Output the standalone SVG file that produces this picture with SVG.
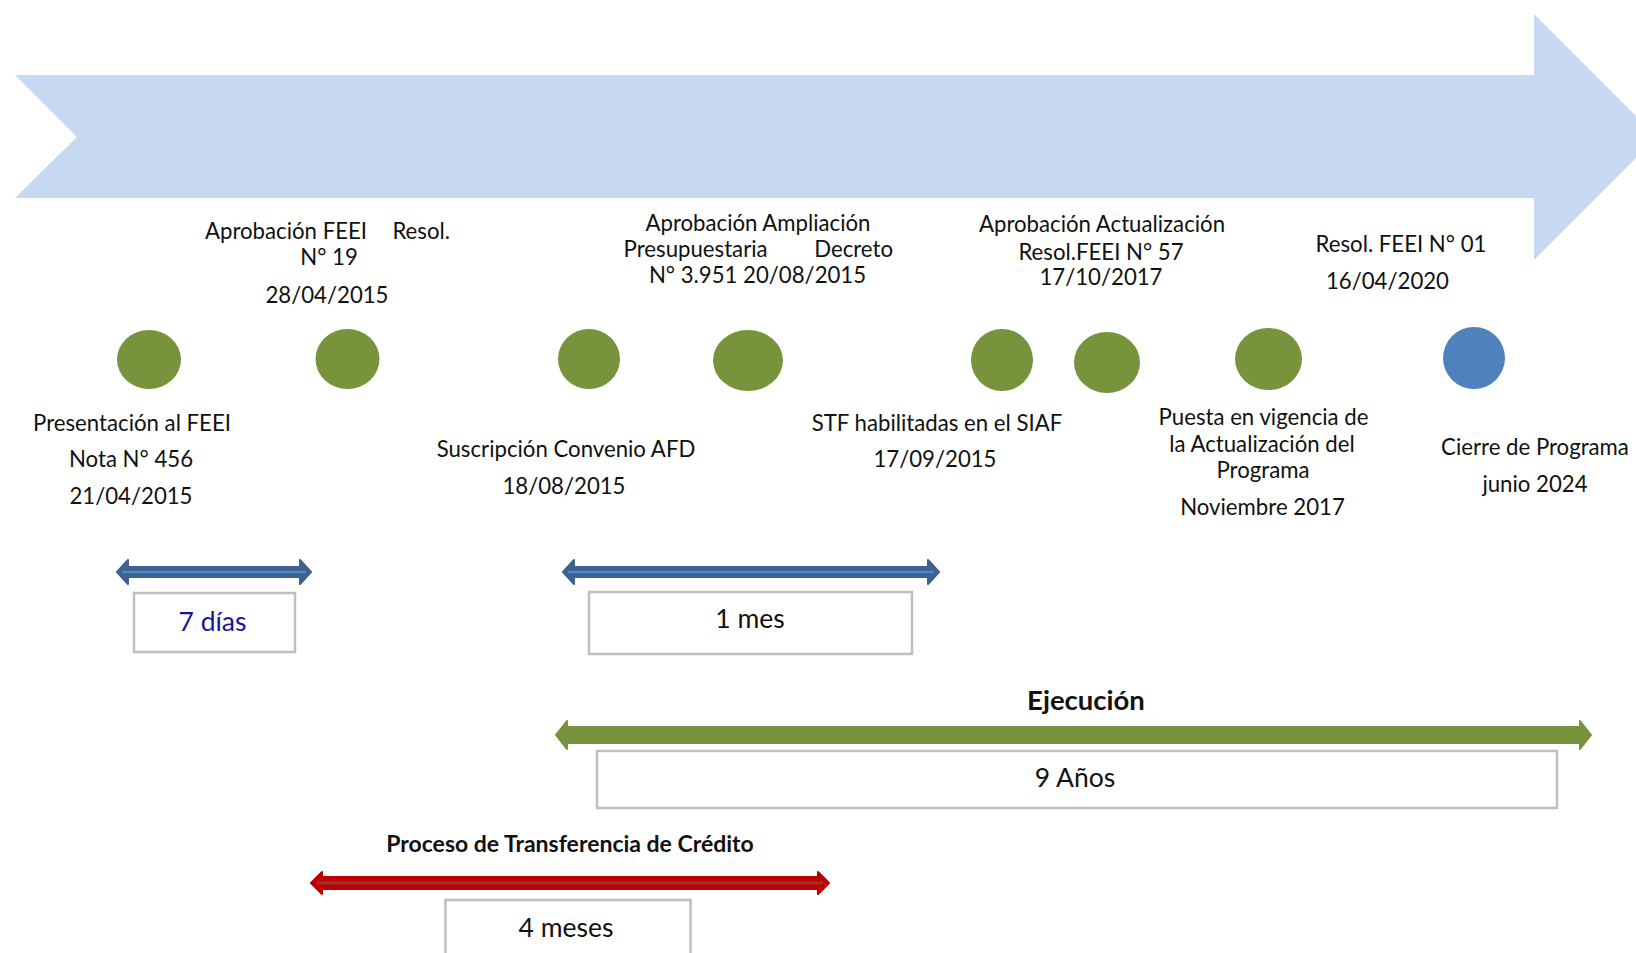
<svg xmlns="http://www.w3.org/2000/svg" width="1636" height="953" viewBox="0 0 1636 953">
<style>
.lbl{font-family:Lato,'Liberation Sans',sans-serif;font-size:22.2px;fill:#111;text-anchor:middle}
.big{font-family:Lato,'Liberation Sans',sans-serif;font-size:26.5px;fill:#111;text-anchor:middle}
.bold{font-family:Lato,'Liberation Sans',sans-serif;font-weight:bold;fill:#111;text-anchor:middle}
.g{fill:#77933C}
.b{fill:#4F81BD}
.box{fill:#fff;stroke:#BFBFBF;stroke-width:2.5}
</style>
<rect width="1636" height="953" fill="#fff"/>
<g id="timeline">
<polygon points="15,75 1534,75 1534,14 1657,137 1534,260 1534,198 15,198 77,137" fill="#C6D9F0"/>
</g>
<g id="m1"><ellipse class="g" cx="149" cy="359.5" rx="32" ry="29.5"/>
<text class="lbl" x="132" y="431">Presentación al FEEI</text>
<text class="lbl" x="131" y="467">Nota N° 456</text>
<text class="lbl" x="131" y="504">21/04/2015</text></g>
<g id="m2"><ellipse class="g" cx="347.5" cy="359" rx="32" ry="30"/>
<text class="lbl" y="239"><tspan x="205" text-anchor="start">Aprobación FEEI</tspan><tspan x="450" text-anchor="end">Resol.</tspan></text>
<text class="lbl" x="329" y="265">N° 19</text>
<text class="lbl" x="327" y="303">28/04/2015</text></g>
<g id="m3"><ellipse class="g" cx="589" cy="359" rx="31" ry="30"/>
<text class="lbl" x="566" y="457">Suscripción Convenio AFD</text>
<text class="lbl" x="564" y="494">18/08/2015</text></g>
<g id="m4"><ellipse class="g" cx="748" cy="360.5" rx="35" ry="30.5"/>
<text class="lbl" x="758" y="231">Aprobación Ampliación</text>
<text class="lbl" y="257"><tspan x="623.6" text-anchor="start">Presupuestaria</tspan><tspan x="893" text-anchor="end">Decreto</tspan></text>
<text class="lbl" x="757.5" y="283">N° 3.951 20/08/2015</text></g>
<g id="m5"><ellipse class="g" cx="1002" cy="360" rx="31" ry="31"/>
<text class="lbl" x="937" y="431">STF habilitadas en el SIAF</text>
<text class="lbl" x="935" y="467">17/09/2015</text></g>
<g id="m6"><ellipse class="g" cx="1107" cy="362.5" rx="33" ry="30.5"/>
<text class="lbl" x="1102" y="232">Aprobación Actualización</text>
<text class="lbl" x="1101" y="260">Resol.FEEI N° 57</text>
<text class="lbl" x="1101" y="285">17/10/2017</text></g>
<g id="m7"><ellipse class="g" cx="1268.5" cy="359" rx="33.5" ry="31"/>
<text class="lbl" x="1263.5" y="425">Puesta en vigencia de</text>
<text class="lbl" x="1262" y="452">la Actualización del</text>
<text class="lbl" x="1263" y="478">Programa</text>
<text class="lbl" x="1262.5" y="515">Noviembre 2017</text></g>
<g id="resol01">
<text class="lbl" x="1401" y="252">Resol. FEEI N° 01</text>
<text class="lbl" x="1387.5" y="289">16/04/2020</text></g>
<g id="m8"><ellipse class="b" cx="1474" cy="358" rx="31" ry="31"/>
<text class="lbl" x="1535" y="455">Cierre de Programa</text>
<text class="lbl" x="1535" y="492">junio 2024</text></g>
<g id="connectors">
<g id="d1">
<polygon points="117,572 128,560 128,567 300,567 300,560 311,572 300,584 300,577 128,577 128,584" fill="#3D6290" stroke="#3D6290" stroke-width="2" stroke-linejoin="round"/>
<line x1="122" y1="572" x2="306" y2="572" stroke="#5586C4" stroke-width="2.5"/>
</g>
<g id="d2">
<polygon points="563,572 574,560 574,567 928,567 928,560 939,572 928,584 928,577 574,577 574,584" fill="#3D6290" stroke="#3D6290" stroke-width="2" stroke-linejoin="round"/>
<line x1="568" y1="572" x2="934" y2="572" stroke="#5586C4" stroke-width="2.5"/>
</g>
<g id="d3">
<polygon points="556,735 567,721 567,727 1580,727 1580,721 1591,735 1580,749 1580,743 567,743 567,749" fill="#77933C" stroke="#77933C" stroke-width="2" stroke-linejoin="round"/>
</g>
<g id="d4">
<polygon points="311,883 322,872 322,877 818,877 818,872 829,883 818,894 818,889 322,889 322,894" fill="#C00000" stroke="#C00000" stroke-width="2" stroke-linejoin="round"/>
<line x1="317" y1="883" x2="823" y2="883" stroke="#953735" stroke-width="3"/>
</g>
</g>
<g id="dur1"><rect class="box" x="134" y="593" width="161" height="59"/>
<text class="big" x="212.5" y="631" style="fill:#15159A">7 días</text></g>
<g id="dur2"><rect class="box" x="589" y="592" width="323" height="62"/>
<text class="big" x="750" y="628">1 mes</text></g>
<g id="dur3"><text class="bold" x="1086" y="710" font-size="27.5">Ejecución</text>
<rect class="box" x="597" y="751" width="960" height="57"/>
<text class="big" x="1075" y="787">9 Años</text></g>
<g id="dur4"><text class="bold" x="570" y="852" font-size="23">Proceso de Transferencia de Crédito</text>
<rect class="box" x="445.5" y="900" width="245" height="60"/>
<text class="big" x="566" y="937">4 meses</text></g>
</svg>
